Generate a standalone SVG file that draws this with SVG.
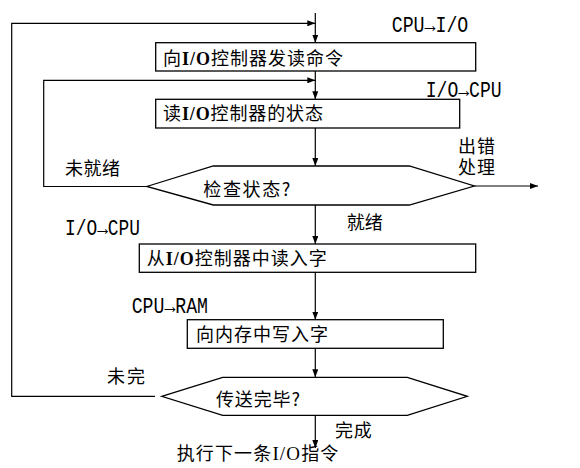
<svg xmlns="http://www.w3.org/2000/svg" width="580" height="468" viewBox="0 0 580 468">
<style>
.box{fill:#fff;stroke:#000;stroke-width:1.3}
.ln{fill:none;stroke:#000;stroke-width:1.2}
.cj{font-family:"Noto Sans CJK SC","Noto Sans CJK JP",sans-serif;font-size:18px;fill:#000}
.lat{font-family:"Liberation Mono",monospace;font-size:22px;fill:#000}
.b{font-family:"Liberation Serif",serif;font-weight:bold}
.n{font-family:"Liberation Serif",serif;font-size:19px}
</style>
<defs>
<marker id="ah" markerUnits="userSpaceOnUse" markerWidth="9" markerHeight="6" refX="8" refY="3" orient="auto">
<path d="M0,0 L8,3 L0,6 z" fill="#000"/>
</marker>
</defs>
<g id="connectors">
<path class="ln" d="M315.3,13 V42.7" marker-end="url(#ah)"/>
<path class="ln" d="M155,396.3 H11.7 V23.3 H315.3" marker-end="url(#ah)"/>
<path class="ln" d="M315.3,71 V99.3" marker-end="url(#ah)"/>
<path class="ln" d="M146.7,186.5 H43.7 V80.3 H315.3" marker-end="url(#ah)"/>
<path class="ln" d="M315.3,128 V166" marker-end="url(#ah)"/>
<path class="ln" d="M315.3,205 V244" marker-end="url(#ah)"/>
<path class="ln" d="M474.3,186 H538" marker-end="url(#ah)"/>
<path class="ln" d="M315.3,272.3 V319.7" marker-end="url(#ah)"/>
<path class="ln" d="M315.3,348.3 V377.3" marker-end="url(#ah)"/>
<path class="ln" d="M315.3,415.3 V448" marker-end="url(#ah)"/>
</g>
<g id="n1">
<rect class="box" x="155.7" y="42.7" width="320" height="28.3"/>
<text class="cj" x="163" y="65" textLength="180" lengthAdjust="spacing">向<tspan class="b">I/O</tspan>控制器发读命令</text>
</g>
<g id="n2">
<rect class="box" x="155.7" y="99.3" width="304" height="28.7"/>
<text class="cj" x="163" y="120" textLength="160" lengthAdjust="spacing">读<tspan class="b">I/O</tspan>控制器的状态</text>
</g>
<g id="n3">
<path class="box" d="M146.7,186.5 L213.3,166 L409.3,166 L474.3,186 L409.3,205 L213.3,205 Z"/>
<text class="cj" x="203.3" y="195.5" textLength="87" lengthAdjust="spacing">检查状态?</text>
</g>
<g id="n4">
<rect class="box" x="139.3" y="244" width="336.4" height="28.3"/>
<text class="cj" x="146.7" y="265" textLength="180" lengthAdjust="spacing">从<tspan class="b">I/O</tspan>控制器中读入字</text>
</g>
<g id="n5">
<rect class="box" x="187.3" y="319.7" width="256" height="28.6"/>
<text class="cj" x="196" y="341" textLength="132" lengthAdjust="spacing">向内存中写入字</text>
</g>
<g id="n6">
<path class="box" d="M161.7,396.3 L222.7,377.3 L407.3,377.3 L467.3,396.3 L407.3,415.3 L222.7,415.3 Z"/>
<text class="cj" x="216" y="406" textLength="84" lengthAdjust="spacing">传送完毕?</text>
</g>
<g id="labels">
<text class="lat" x="391.7" y="31.7" textLength="76.6" lengthAdjust="spacingAndGlyphs">CPU→I/O</text>
<text class="lat" x="425.7" y="97.3" textLength="76" lengthAdjust="spacingAndGlyphs">I/O→CPU</text>
<text class="cj" x="458" y="153" textLength="37" lengthAdjust="spacing">出错</text>
<text class="cj" x="458" y="174" textLength="37" lengthAdjust="spacing">处理</text>
<text class="cj" x="65" y="175" textLength="55" lengthAdjust="spacing">未就绪</text>
<text class="cj" x="346.7" y="229" textLength="36" lengthAdjust="spacing">就绪</text>
<text class="lat" x="65" y="235" textLength="75" lengthAdjust="spacingAndGlyphs">I/O→CPU</text>
<text class="lat" x="131.7" y="313" textLength="76.3" lengthAdjust="spacingAndGlyphs">CPU→RAM</text>
<text class="cj" x="107" y="383" textLength="38" lengthAdjust="spacing">未完</text>
<text class="cj" x="335" y="437" textLength="36.7" lengthAdjust="spacing">完成</text>
<text class="cj" x="176.7" y="460" textLength="161.6" lengthAdjust="spacing">执行下一条<tspan class="n">I/O</tspan>指令</text>
</g>
</svg>
